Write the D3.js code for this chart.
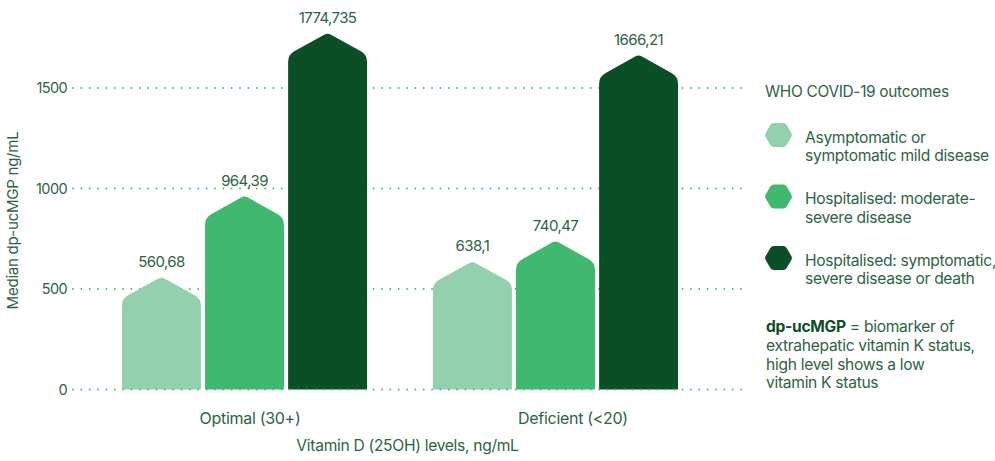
<!DOCTYPE html>
<html>
<head>
<meta charset="utf-8">
<script src="https://cdn.jsdelivr.net/npm/d3@7"></script>
<style>
  body { margin: 0; background: #fff; }
  svg { display: block; font-family: Inter, "Noto Sans", sans-serif; }
</style>
</head>
<body>
<svg id="chart" width="995" height="461"></svg>
<script>
// data
var groups = ["Optimal (30+)", "Deficient (<20)"];
var outcomes = ["mild", "moderate", "severe"];
var optimalValues = [560.68, 964.39, 1774.735];
var deficientValues = [638.1, 740.47, 1666.21];
var yTicks = [0, 500, 1000, 1500];
var outcomeColors = ["#92d0ae", "#41b870", "#0b4f27"];
var legendLabels = [
  ["Asymptomatic or", "symptomatic mild disease"],
  ["Hospitalised: moderate-", "severe disease"],
  ["Hospitalised: symptomatic,", "severe disease or death"]
];
var noteLines = ["= biomarker of", "extrahepatic vitamin K status,", "high level shows a low", "vitamin K status"];

var textColor = "#2b6444";
var labelNudge = [5.5, 17.5];

var data = groups.map(function(g, i) {
  var vals = i === 0 ? optimalValues : deficientValues;
  return { group: g, values: outcomes.map(function(o, j) { return { key: o, value: vals[j] }; }) };
});

var svg = d3.select("#chart");

var y = d3.scaleLinear().domain([0, 1500]).range([389.5, 88]);

var x0 = d3.scaleBand().domain(groups).range([89, 711])
  .paddingInner(0.212).paddingOuter(0.106);
var x1 = d3.scaleBand().domain(outcomes).range([0, x0.bandwidth()])
  .paddingInner(0.05);
var color = d3.scaleOrdinal().domain(outcomes).range(outcomeColors);

function dotted(sel) {
  sel.attr("stroke", "#41b870")
    .attr("stroke-width", 1.8)
    .attr("stroke-linecap", "round")
    .attr("stroke-dasharray", "0,8.35");
}

// gridlines (dotted)
svg.append("g").selectAll("line")
  .data(yTicks.filter(function(d) { return d > 0; }))
  .enter().append("line")
  .attr("x1", 73).attr("x2", 748)
  .attr("y1", function(d) { return y(d); })
  .attr("y2", function(d) { return y(d); })
  .call(dotted);

// y axis labels
var yAxis = svg.append("g")
  .attr("transform", "translate(67,0)")
  .call(d3.axisLeft(y).tickValues(yTicks).tickSize(0).tickPadding(0).tickFormat(d3.format("d")));
yAxis.select(".domain").remove();
yAxis.selectAll("text")
  .attr("fill", textColor)
  .style("font-family", "Inter, sans-serif")
  .style("font-size", "14.5px")
  .attr("letter-spacing", "-0.6");

// bar with pointed, rounded roof
function barPath(x, w, top, bottom) {
  var roof = 22, r1 = 12, r2 = 7;
  var p = d3.path();
  var ys = top + roof, cx = x + w / 2;
  p.moveTo(x, bottom);
  p.arcTo(x, ys, cx, top, r1);
  p.arcTo(cx, top, x + w, ys, r2);
  p.arcTo(x + w, ys, x + w, bottom, r1);
  p.lineTo(x + w, bottom);
  p.closePath();
  return p.toString();
}

var groupsG = svg.selectAll(".grp")
  .data(data)
  .enter().append("g")
  .attr("class", "grp")
  .attr("transform", function(d) { return "translate(" + x0(d.group) + ",0)"; });

groupsG.selectAll("path")
  .data(function(d) { return d.values; })
  .enter().append("path")
  .attr("d", function(d) { return barPath(x1(d.key), x1.bandwidth(), y(d.value), y(0)); })
  .attr("fill", function(d) { return color(d.key); });

groupsG.selectAll(".val")
  .data(function(d) { return d.values; })
  .enter().append("text")
  .attr("class", "val")
  .attr("x", function(d) { return x1(d.key) + x1.bandwidth() / 2; })
  .attr("y", function(d) { return y(d.value) - 10; })
  .attr("text-anchor", "middle")
  .attr("fill", textColor)
  .style("font-size", "15px")
  .attr("letter-spacing", "-0.6")
  .text(function(d) { return String(d.value).replace(".", ","); });

// zero line drawn over bars
svg.append("line")
  .attr("x1", 73).attr("x2", 748)
  .attr("y1", y(0)).attr("y2", y(0))
  .call(dotted);

// category labels
svg.selectAll(".cat")
  .data(groups)
  .enter().append("text")
  .attr("class", "cat")
  .attr("x", function(d, i) { return x0(d) + x0.bandwidth() / 2 + labelNudge[i]; })
  .attr("y", 423.5)
  .attr("text-anchor", "middle")
  .attr("fill", textColor)
  .style("font-size", "16px")
  .attr("letter-spacing", "-0.3")
  .text(function(d) { return d; });

// axis titles
svg.append("text")
  .attr("x", 407.5).attr("y", 451)
  .attr("text-anchor", "middle")
  .attr("fill", textColor)
  .style("font-size", "15.6px")
  .attr("letter-spacing", "-0.3")
  .text("Vitamin D (25OH) levels, ng/mL");

svg.append("text")
  .attr("transform", "translate(18,220.5) rotate(-90)")
  .attr("text-anchor", "middle")
  .attr("fill", textColor)
  .style("font-size", "15.1px")
  .attr("letter-spacing", "-0.3")
  .text("Median dp-ucMGP ng/mL");

// legend
var legend = svg.append("g").attr("transform", "translate(765,0)");
legend.append("text")
  .attr("x", 0).attr("y", 97)
  .attr("fill", textColor)
  .style("font-size", "15.4px")
  .attr("letter-spacing", "-0.3")
  .text("WHO COVID-19 outcomes");

function hexPath(cx, cy, w, h, r) {
  var pts = [[cx - w / 2, cy], [cx - w / 4, cy - h / 2], [cx + w / 4, cy - h / 2],
             [cx + w / 2, cy], [cx + w / 4, cy + h / 2], [cx - w / 4, cy + h / 2]];
  var p = d3.path();
  var n = pts.length;
  var m0 = [(pts[n - 1][0] + pts[0][0]) / 2, (pts[n - 1][1] + pts[0][1]) / 2];
  p.moveTo(m0[0], m0[1]);
  for (var i = 0; i < n; i++) {
    var a = pts[i], b = pts[(i + 1) % n];
    p.arcTo(a[0], a[1], b[0], b[1], r);
  }
  p.closePath();
  return p.toString();
}

var items = legend.selectAll(".item")
  .data(outcomes)
  .enter().append("g")
  .attr("class", "item")
  .attr("transform", function(d, i) { return "translate(0," + (135 + i * 61.5) + ")"; });

items.append("path")
  .attr("d", hexPath(13.5, 0, 28, 24, 4))
  .attr("fill", function(d) { return color(d); });

items.append("text")
  .attr("fill", textColor)
  .style("font-size", "15.6px")
  .attr("letter-spacing", "-0.3")
  .selectAll("tspan")
  .data(function(d, i) { return legendLabels[i]; })
  .enter().append("tspan")
  .attr("x", 40)
  .attr("y", function(d, i) { return 7.5 + i * 18.5; })
  .text(function(d) { return d; });

// note
var note = legend.append("text")
  .attr("fill", textColor)
  .style("font-size", "15.6px")
  .attr("letter-spacing", "-0.3");
noteLines.forEach(function(line, i) {
  if (i === 0) {
    note.append("tspan").attr("x", 1).attr("y", 332)
      .attr("font-weight", 700).attr("fill", "#0b4f27").text("dp-ucMGP");
    note.append("tspan").text(" " + line);
  } else {
    note.append("tspan").attr("x", 1).attr("y", 332 + i * 18.8).text(line);
  }
});
</script>
</body>
</html>
